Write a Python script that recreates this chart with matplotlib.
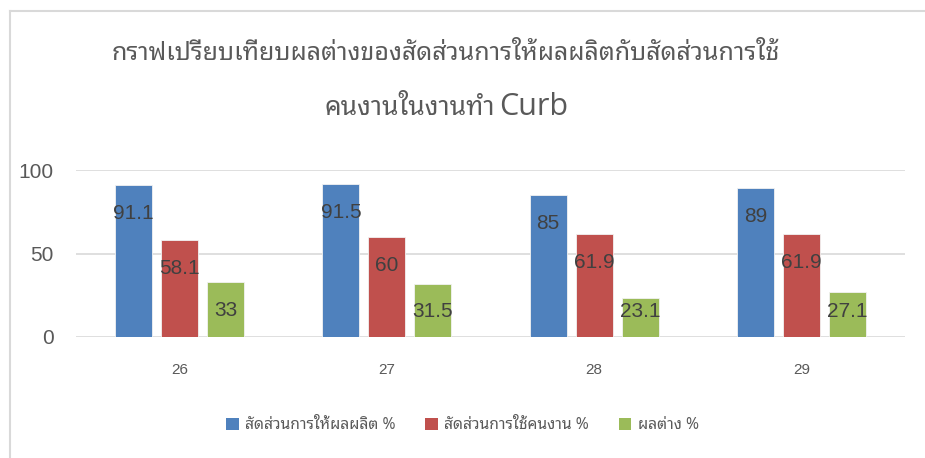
import matplotlib
matplotlib.use('Agg')
import matplotlib.pyplot as plt
import numpy as np
from matplotlib.lines import Line2D
from matplotlib.patches import Patch

thai = ['Noto Sans Thai Looped', 'Liberation Sans', 'DejaVu Sans']
num = ['Liberation Sans', 'DejaVu Sans']

categories = ['26', '27', '28', '29']
series_names = ['สัดส่วนการให้ผลผลิต %', 'สัดส่วนการใช้คนงาน %', 'ผลต่าง %']
output_ratio = [91.1, 91.5, 85, 89]
labour_ratio = [58.1, 60, 61.9, 61.9]
difference = [33, 31.5, 23.1, 27.1]
colors = ['#4F81BD', '#C0504D', '#9BBB59']
title_line1 = 'กราฟเปรียบเทียบผลต่างของสัดส่วนการให้ผลผลิตกับสัดส่วนการใช้'
title_line2 = 'คนงานในงานทำ'
title_latin = 'Curb'

fig = plt.figure(figsize=(9.25, 4.58), dpi=100)
ax = fig.add_axes([0.0822, 0.2642, 0.8962, 0.3646])

x = np.arange(len(categories))
w = 0.178
step = 0.222
for i, vals in enumerate([output_ratio, labour_ratio, difference]):
    xs = x + (i - 1) * step
    ax.bar(xs, vals, width=w, color=colors[i], edgecolor='#f2f2f2', linewidth=0.6, zorder=3)
    for xi, v in zip(xs, vals):
        ax.text(xi, max(v - 17, 15), '%g' % v, ha='center', va='center',
                fontsize=15, color='#404040', family=num, zorder=4)

ax.set_xlim(-0.5, 3.5)
ax.set_ylim(0, 100)
ax.set_yticks([0, 50, 100])
ax.set_xticks(x)
ax.set_xticklabels(categories, family=num, fontsize=11, color='#595959')
for t in ax.get_yticklabels():
    t.set_family(num)
    t.set_fontsize(15)
    t.set_color('#595959')
ax.tick_params(axis='y', length=0, pad=16)
ax.tick_params(axis='x', length=0, pad=19)
for s in ax.spines.values():
    s.set_visible(False)
ax.grid(axis='y', color='#d9d9d9', linewidth=1.2, zorder=0)

fig.text(0.482, 0.869, title_line1, ha='center', va='baseline', fontsize=18,
         color='#595959', family=thai)
fig.text(0.535, 0.749, title_line2, ha='right', va='baseline', fontsize=19,
         color='#595959', family=thai)
fig.text(0.540, 0.749, title_latin, ha='left', va='baseline', fontsize=22,
         color='#595959', family=['Open Sans', 'DejaVu Sans'])

handles = [Patch(facecolor=c, edgecolor='none') for c in colors]
leg = fig.legend(handles, series_names, loc='center', bbox_to_anchor=(0.5, 0.072), ncol=3,
                 frameon=False, handlelength=0.8, handleheight=0.8, handletextpad=0.4,
                 columnspacing=1.9, prop={'family': thai, 'size': 11.3})
for t in leg.get_texts():
    t.set_color('#595959')

# chart area border
bx = 10 / 925
by = 1 - 11 / 458
fig.add_artist(Line2D([bx, bx], [0, by], color='#d9d9d9', linewidth=1.5, transform=fig.transFigure))
fig.add_artist(Line2D([bx, 1], [by, by], color='#d9d9d9', linewidth=1.5, transform=fig.transFigure))

fig.savefig('out.png')
